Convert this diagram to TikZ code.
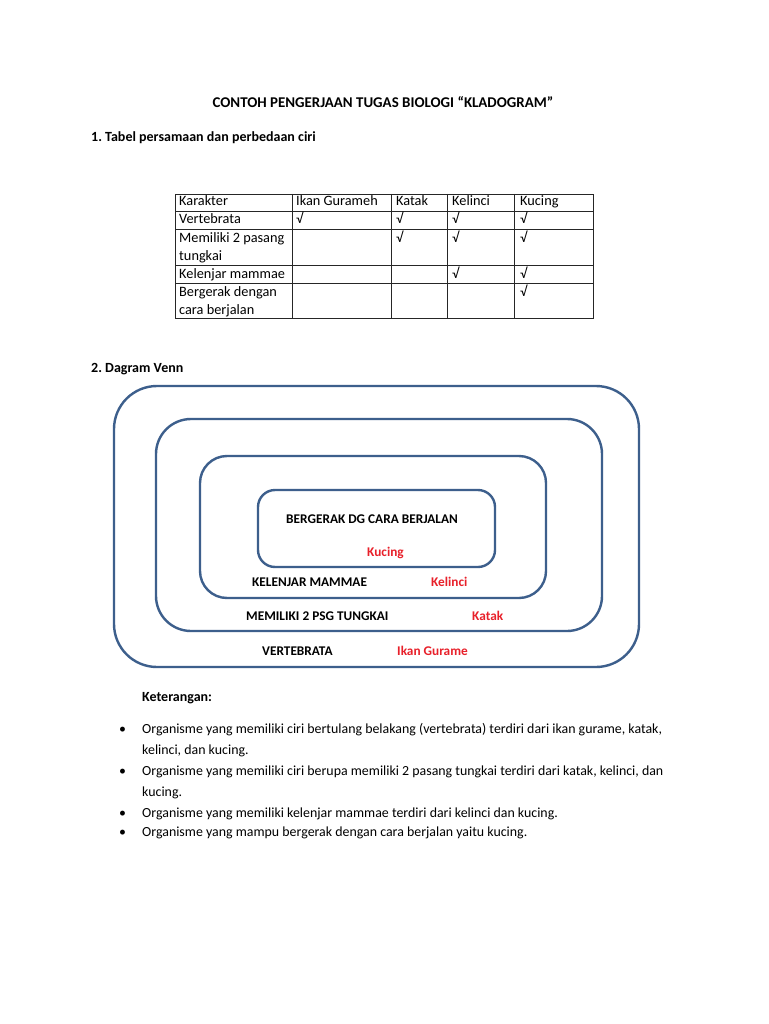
\documentclass[tikz,border=0pt]{standalone}
\usepackage{fontspec}
\setmainfont{Carlito}
\frenchspacing
\begin{document}
\begin{tikzpicture}[x=1pt,y=-1pt,
  txt/.style={anchor=base west,inner sep=0pt,font=\fontsize{13.9}{17}\selectfont},
  btxt/.style={anchor=base west,inner sep=0pt,font=\fontsize{14}{17}\selectfont\bfseries},
  ttxt/.style={anchor=base west,inner sep=0pt,font=\fontsize{14.3}{17}\selectfont},
  vlab/.style={anchor=base west,inner sep=0pt,font=\fontsize{13.3}{16}\selectfont\bfseries},
  vred/.style={vlab,text=vennred},
  vbox/.style={draw=vennblue,line width=2.4pt},
  tline/.style={draw=black!85,line width=0.9pt}]
\definecolor{vennblue}{HTML}{3D5F8C}
\definecolor{vennred}{HTML}{E8202A}
\useasboundingbox (0,0) rectangle (768,1024);
\fill[white] (0,0) rectangle (768,1024);
% title
\node[anchor=base,inner sep=0pt,font=\fontsize{14.9}{17}\selectfont\bfseries] (title) at (383,108) {CONTOH PENGERJAAN TUGAS BIOLOGI “KLADOGRAM”};
\node[btxt] (h1) at (91,142) {1. Tabel persamaan dan perbedaan ciri};
% table grid
\draw[tline] (175,194) rectangle (593,318);
\foreach \yy in {211,229,265,283} \draw[tline] (175,\yy) -- (593,\yy);
\foreach \xx in {292,391,447,514} \draw[tline] (\xx,194) -- (\xx,318);
% table text
\node[ttxt] (c11) at (179,206) {Karakter};
\node[ttxt] (c12) at (296,206) {Ikan Gurameh};
\node[ttxt] (c13) at (396,206) {Katak};
\node[ttxt] (c14) at (452,206) {Kelinci};
\node[ttxt] (c15) at (520,206) {Kucing};
\node[ttxt] (c21) at (179,224) {Vertebrata};
\node[ttxt] (c22) at (296,224) {√};
\node[ttxt] (c23) at (396,224) {√};
\node[ttxt] (c24) at (452,224) {√};
\node[ttxt] (c25) at (520,224) {√};
\node[ttxt] (c31) at (179,242) {Memiliki 2 pasang};
\node[ttxt] (c31b) at (179,260) {tungkai};
\node[ttxt] (c33) at (396,242) {√};
\node[ttxt] (c34) at (452,242) {√};
\node[ttxt] (c35) at (520,242) {√};
\node[ttxt] (c41) at (179,278) {Kelenjar mammae};
\node[ttxt] (c44) at (452,278) {√};
\node[ttxt] (c45) at (520,278) {√};
\node[ttxt] (c51) at (179,296) {Bergerak dengan};
\node[ttxt] (c51b) at (179,314) {cara berjalan};
\node[ttxt] (c55) at (520,296) {√};
% venn
\node[btxt] (h2) at (91,372) {2. Dagram Venn};
\draw[vbox,rounded corners=43] (114,386) rectangle (639,667);
\draw[vbox,rounded corners=35] (156,419) rectangle (602,631);
\draw[vbox,rounded corners=27] (200,456) rectangle (546,598);
\draw[vbox,rounded corners=17] (258,490) rectangle (495,567);
\node[vlab] (l1) at (286,523) {BERGERAK DG CARA BERJALAN};
\node[vred] (r1) at (367,556) {Kucing};
\node[vlab] (l2) at (252,586) {KELENJAR MAMMAE};
\node[vred] (r2) at (431,586) {Kelinci};
\node[vlab] (l3) at (246,620) {MEMILIKI 2 PSG TUNGKAI};
\node[vred] (r3) at (472,620) {Katak};
\node[vlab] (l4) at (262,655) {VERTEBRATA};
\node[vred] (r4) at (397,655) {Ikan Gurame};
% keterangan
\node[btxt] (ket) at (142,701) {Keterangan:};
\foreach \yy in {733,775,817,836} \node[txt] at (119,\yy) {•};
\node[txt] (b1) at (142,733) {Organisme yang memiliki ciri bertulang belakang (vertebrata) terdiri dari ikan gurame, katak,};
\node[txt] (b1b) at (142,754) {kelinci, dan kucing.};
\node[txt] (b2) at (142,775) {Organisme yang memiliki ciri berupa memiliki 2 pasang tungkai terdiri dari katak, kelinci, dan};
\node[txt] (b2b) at (142,796) {kucing.};
\node[txt] (b3) at (142,817) {Organisme yang memiliki kelenjar mammae terdiri dari kelinci dan kucing.};
\node[txt] (b4) at (142,836) {Organisme yang mampu bergerak dengan cara berjalan yaitu kucing.};
\end{tikzpicture}
\end{document}
